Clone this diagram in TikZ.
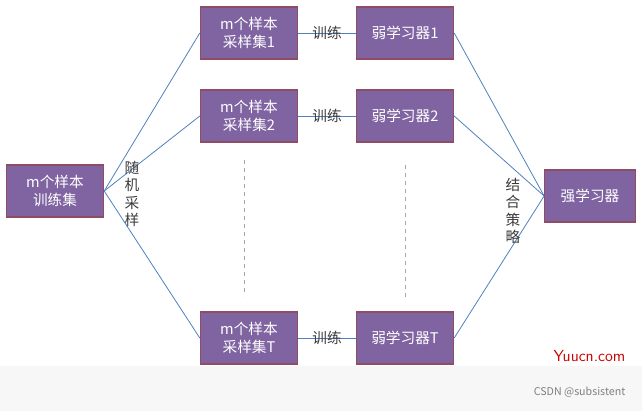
\documentclass[tikz,border=0pt]{standalone}
\usepackage{fontspec}
\newfontfamily\cjk{Noto Sans CJK SC}
\begin{document}
\begin{tikzpicture}[x=0.75pt,y=-0.75pt,
  box/.style={draw=purple!50!black!70, fill={rgb,255:red,128;green,100;blue,162}, text=white, line width=0.8pt, minimum width=73pt, minimum height=39pt, inner sep=1pt, align=center, font=\cjk\fontsize{11pt}{13pt}\selectfont},
  conn/.style={draw={rgb,255:red,79;green,129;blue,189}, line width=0.6pt},
  lab/.style={font=\cjk\fontsize{11pt}{13pt}\selectfont, text={rgb,255:red,60;green,60;blue,60}, inner sep=1pt}]
\useasboundingbox (0,0) rectangle (642,411);
\fill[gray!6] (0,366) rectangle (642,411);
\node[box] (t) at (55,191) {m个样本\\训练集};
\node[box] (s1) at (249,33) {m个样本\\采样集1};
\node[box] (s2) at (249,116) {m个样本\\采样集2};
\node[box] (sT) at (249,338) {m个样本\\采样集T};
\node[box] (w1) at (405,33) {弱学习器1};
\node[box] (w2) at (405,116) {弱学习器2};
\node[box] (wT) at (405,338) {弱学习器T};
\node[box, minimum width=68pt] (S) at (590,196) {强学习器};
\foreach \s in {s1,s2,sT} \draw[conn] (t.east) -- (\s.west);
\foreach \w in {w1,w2,wT} \draw[conn] (\w.east) -- (S.west);
\draw[conn] (s1) -- node[lab]{训练} (w1);
\draw[conn] (s2) -- node[lab]{训练} (w2);
\draw[conn] (sT) -- node[lab]{训练} (wT);
\coordinate (d1a) at (244,160); \coordinate (d1b) at (244,296);
\coordinate (d2a) at (405,165); \coordinate (d2b) at (405,298);
\draw[dashed, gray!70] (d1a) -- (d1b);
\draw[dashed, gray!70] (d2a) -- (d2b);
\node[lab, align=center, font=\cjk\fontsize{11pt}{13pt}\selectfont] (r) at (132,194) {随\\机\\采\\样};
\node[lab, align=center, font=\cjk\fontsize{11pt}{13pt}\selectfont] (c) at (513,211) {结\\合\\策\\略};
\node[font=\sffamily\fontsize{12pt}{14pt}\selectfont, text=red!80!black, anchor=east] (y) at (630,356) {Yuucn.com};
\node[font=\cjk\fontsize{8pt}{10pt}\selectfont, text=gray, anchor=east] (cs) at (630,392) {CSDN @subsistent};
\end{tikzpicture}
\end{document}
